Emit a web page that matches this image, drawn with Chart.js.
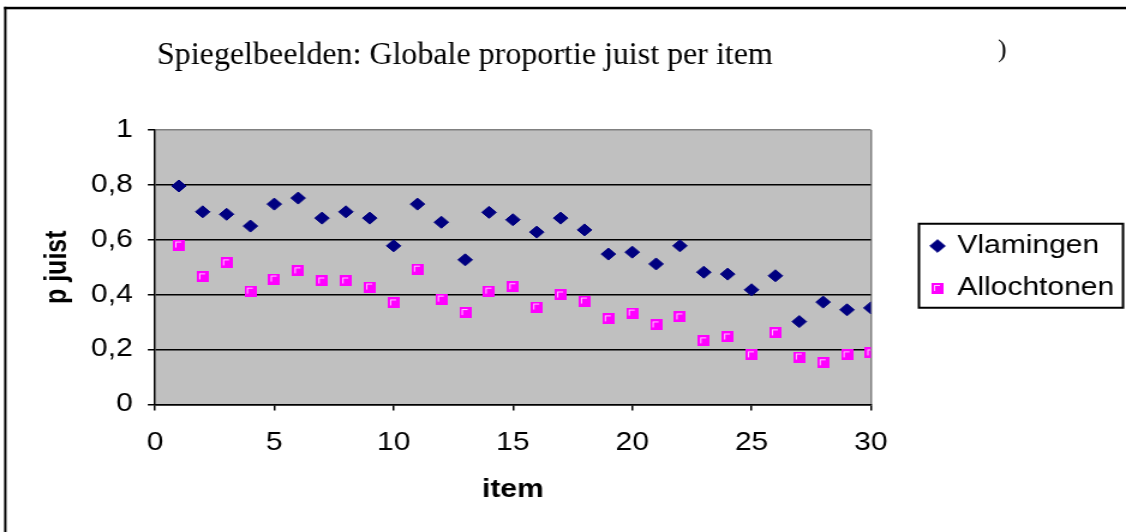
<!DOCTYPE html>
<html>
<head>
<meta charset="utf-8">
<script src="https://cdn.jsdelivr.net/npm/chart.js@4/dist/chart.umd.min.js"></script>
<style>
  html, body { margin:0; padding:0; background:#fff; overflow:hidden; }
  /* the source picture is stretched sideways, so the chart is drawn narrow and widened */
  #wrap { position:absolute; left:0; top:0; width:938px; height:532px;
          transform:scaleX(1.20043); transform-origin:0 0; }
</style>
</head>
<body>
<div id="wrap"><canvas id="chart"></canvas></div>
<script>
// ── DATA ───────────────────────────────────────────────
const items       = [1,2,3,4,5,6,7,8,9,10,11,12,13,14,15,16,17,18,19,20,21,22,23,24,25,26,27,28,29,30];
const vlamingen   = [0.796,0.702,0.693,0.650,0.730,0.752,0.679,0.702,0.679,0.578,
                     0.730,0.664,0.527,0.700,0.673,0.628,0.679,0.636,0.548,0.555,
                     0.512,0.578,0.482,0.475,0.418,0.469,0.302,0.373,0.345,0.352];
const allochtonen = [0.581,0.465,0.516,0.413,0.457,0.487,0.450,0.450,0.428,0.370,
                     0.493,0.384,0.335,0.413,0.429,0.355,0.399,0.377,0.312,0.333,
                     0.290,0.319,0.232,0.246,0.181,0.261,0.173,0.152,0.181,0.188];
const xTickLabels = ['0','5','10','15','20','25','30'];
const yTickLabels = ['0','0,2','0,4','0,6','0,8','1'];
const TITLE       = 'Spiegelbeelden: Globale proportie juist per item';

// ── CONFIG ─────────────────────────────────────────────
const STRETCH = 1126 / 938;
const SANS    = '"Liberation Sans", Arial, sans-serif';
const SERIF   = '"Liberation Serif", "Times New Roman", serif';

Chart.defaults.font.family = SANS;
Chart.defaults.color = '#000';

// Excel style square marker: magenta with light inner corner
function squareMarker() {
  const c = document.createElement('canvas');
  c.width = 10; c.height = 11;
  const g = c.getContext('2d');
  g.fillStyle = '#ff00ff';
  g.fillRect(0, 0, 10, 11);
  g.fillStyle = '#ffc8ff';
  g.fillRect(2, 2, 5, 1);
  g.fillRect(2, 2, 1, 6);
  return c;
}

// ── PLUGIN: frame, plot background, legend box, title ──
const decor = {
  id: 'decor',
  beforeDraw(chart) {
    const { ctx, chartArea: a } = chart;
    ctx.save();
    ctx.fillStyle = '#fff';
    ctx.fillRect(0, 0, chart.width, chart.height);
    ctx.fillStyle = '#c0c0c0';
    ctx.fillRect(a.left, a.top, a.right - a.left, a.bottom - a.top);
    ctx.fillStyle = '#000';
    ctx.fillRect(3.4, 6.8, chart.width, 2.5);
    ctx.fillRect(3.4, 6.8, 2, chart.height);
    ctx.restore();
  },
  afterLayout(chart) {
    // push legend away from the plot, as in the original
    const lg = chart.legend;
    const shift = 759.5 - lg.left;
    lg.left += shift;
    lg.right += shift;
  },
  afterDraw(chart) {
    const { ctx } = chart;
    const lg = chart.legend;
    const mid = (lg.top + lg.bottom) / 2;
    ctx.save();
    ctx.strokeStyle = '#000';
    ctx.lineWidth = 2;
    ctx.strokeRect(lg.left + 6, mid - 43.5, 170, 84);

    ctx.scale(1 / STRETCH, 1);
    ctx.fillStyle = '#000';
    ctx.textBaseline = 'alphabetic';
    ctx.textAlign = 'left';
    ctx.font = '32px ' + SERIF;
    ctx.fillText(TITLE, 157, 64);
    ctx.font = '26px ' + SERIF;
    ctx.fillText(')', 998, 57);
    ctx.restore();
  }
};

// ── CHART ──────────────────────────────────────────────
new Chart(document.getElementById('chart'), {
  type: 'scatter',
  data: {
    datasets: [
      { label:'Vlamingen', data: items.map((x, i) => ({ x, y: vlamingen[i] })),
        pointStyle:'rectRot', pointRadius:6, pointHoverRadius:6,
        backgroundColor:'#000080', borderColor:'#000080', borderWidth:1 },
      { label:'Allochtonen', data: items.map((x, i) => ({ x, y: allochtonen[i] })),
        pointStyle: squareMarker(), pointRadius:6,
        backgroundColor:'#ff00ff', borderColor:'#ff00ff' }
    ]
  },
  options: {
    responsive:true,
    maintainAspectRatio:false,
    animation:false,
    events:[],
    layout:{ padding:{ top:130, right:33.9, bottom:0, left:0 } },
    plugins:{
      title:{ display:false },
      tooltip:{ enabled:false },
      legend:{
        position:'right', align:'center', fullSize:false,
        labels:{ usePointStyle:true, boxWidth:8, boxHeight:9, padding:17.5,
                 color:'#000', font:{ size:25 } }
      }
    },
    scales:{
      x:{
        type:'linear', min:0, max:30,
        afterFit(s) { s.height = 127.5; },
        ticks:{ stepSize:5, padding:18, color:'#000', font:{ size:25 },
                callback:(v, i) => xTickLabels[i] },
        grid:{ color: c => (c.tick && c.tick.value === 30) ? '#808080' : 'rgba(0,0,0,0)',
               tickColor:'#000', tickLength:6, lineWidth:1.5 },
        border:{ color:'#000', width:1.5 },
        title:{ display:true, text:'item', color:'#000',
                font:{ size:25, weight:'bold' }, padding:{ top:0, bottom:26.4 } }
      },
      y:{
        min:0, max:1,
        afterFit(s) { s.width = 129.1; },
        ticks:{ stepSize:0.2, padding:12.5, color:'#000', font:{ size:25 },
                callback:(v, i) => yTickLabels[i] },
        grid:{ color: c => (c.tick && c.tick.value === 1) ? '#808080' : '#000',
               tickColor:'#000', tickLength:6, lineWidth:1.5 },
        border:{ color:'#000', width:1.5 },
        title:{ display:true, text:'p juist', color:'#000',
                font:{ size:25, weight:'bold' }, padding:{ top:33, bottom:0 } }
      }
    }
  },
  plugins:[decor]
});
</script>
</body>
</html>
